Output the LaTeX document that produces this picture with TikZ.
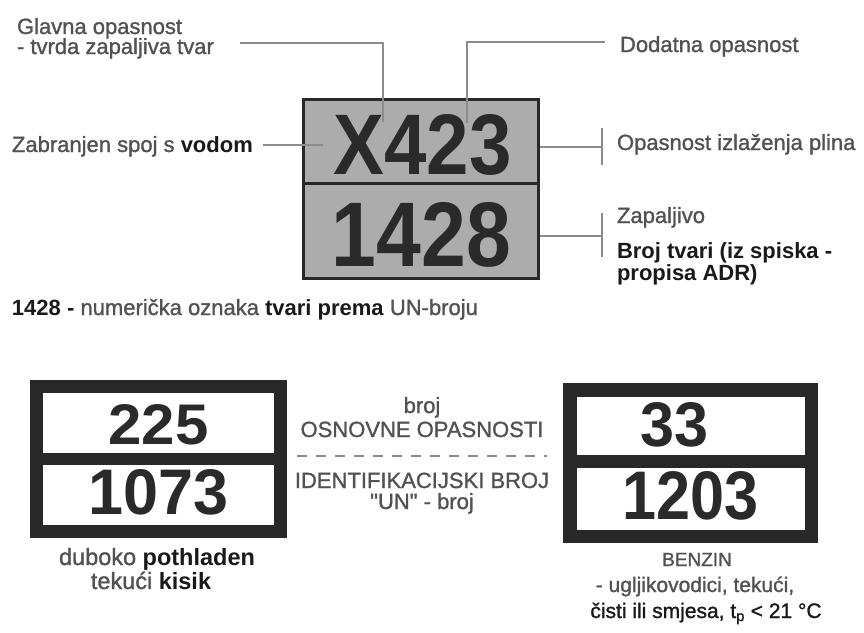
\documentclass[tikz,border=0pt]{standalone}
\usepackage{fontspec}
\setmainfont{Liberation Sans}[UprightFeatures={FakeBold=1.2}]
\usepackage{graphicx}
\definecolor{txtc}{RGB}{82,82,82}
\definecolor{darkc}{RGB}{25,25,25}
\definecolor{numc}{RGB}{42,42,42}
\definecolor{boxc}{RGB}{40,40,40}
\definecolor{leadc}{RGB}{140,140,140}
\definecolor{boxgray}{RGB}{172,172,172}
\begin{document}
\begin{tikzpicture}[x=1pt,y=-1pt,
  lbl/.style={inner sep=0pt, outer sep=0pt, text=txtc, font=\fontsize{22}{24}\selectfont},
  lblw/.style={lbl, anchor=base west},
  lblc/.style={lbl, anchor=base},
  boldlbl/.style={text=darkc, font=\fontsize{22}{24}\selectfont\bfseries},
  leader/.style={draw=leadc, line width=1.4pt},
  dashline/.style={draw=leadc, line width=1.5pt, dash pattern=on 10pt off 9pt},
  bignum/.style={inner sep=0pt, outer sep=0pt, text=numc, font=\bfseries},
  plate/.style={draw=boxc, rectangle, inner sep=0pt, outer sep=0pt}
]
\useasboundingbox[fill=white] (0,0) rectangle (864,632);

% ---------- top plate ----------
\node[plate, fill=boxgray, line width=3pt, minimum width=235pt, minimum height=179pt] (top) at (421,189) {};
\draw[boxc, line width=3pt] ([yshift=6pt]top.west) -- ([yshift=6pt]top.east);
\node[bignum] (x423) at (422.5,145) {\resizebox{178pt}{60pt}{X423}};
\node[bignum] (n1428) at (421.5,235) {\resizebox{179pt}{64pt}{1428}};

% ---------- labels top ----------
\node[lblw] (gl1) at (17,34) {Glavna opasnost};
\node[lblw] (gl2) at (17,54) {- tvrda zapaljiva tvar};
\node[lblw] (dod) at (620,52) {Dodatna opasnost};
\node[lblw] (zab) at (12,152) {Zabranjen spoj s {\color{darkc}\bfseries vodom}};
\node[lblw] (izl) at (617,150) {Opasnost izlaženja plina};
\node[lblw] (zap) at (617,223) {Zapaljivo};
\node[lblw, boldlbl] (br1) at (617,258) {Broj tvari (iz spiska -};
\node[lblw, boldlbl] (br2) at (617,280) {propisa ADR)};
\node[lblw] (unl) at (12,315) {{\color{darkc}\bfseries 1428 -} numerička oznaka {\color{darkc}\bfseries tvari prema} UN-broju};

% ---------- leaders ----------
\coordinate (ga) at (240,43); \coordinate (gb) at (383,43); \coordinate (gc) at (383,122);
\draw[leader] (ga) -- (gb) -- (gc);
\coordinate (da) at (605,42); \coordinate (db) at (467,42); \coordinate (dc) at (467,123);
\draw[leader] (da) -- (db) -- (dc);
\coordinate (za) at (263,145); \coordinate (zb) at (323,145);
\draw[leader] (za) -- (zb);
\coordinate (ia) at (540,147); \coordinate (ib) at (602,147);
\coordinate (it1) at (602,128); \coordinate (it2) at (602,165);
\draw[leader] (ia) -- (ib);
\draw[leader] (it1) -- (it2);
\coordinate (pa) at (540,236); \coordinate (pb) at (602,236);
\coordinate (pt1) at (602,213); \coordinate (pt2) at (602,257);
\draw[leader] (pa) -- (pb);
\draw[leader] (pt1) -- (pt2);

% ---------- bottom left plate ----------
\node[plate, fill=white, line width=13pt, minimum width=244pt, minimum height=145pt] (lp) at (158.5,459) {};
\draw[boxc, line width=12pt] (lp.west) -- (lp.east);
\node[bignum] (n225) at (158.5,425) {\resizebox{100pt}{40pt}{225}};
\node[bignum] (n1073) at (158.5,492.5) {\resizebox{140pt}{45pt}{1073}};

% ---------- bottom right plate ----------
\node[plate, fill=white, line width=13.5pt, minimum width=241.5pt, minimum height=146.5pt] (rp) at (690.5,463) {};
\draw[boxc, line width=13pt] ([yshift=1.5pt]rp.west) -- ([yshift=1.5pt]rp.east);
\node[bignum] (n33) at (674.5,425) {\resizebox{68pt}{44pt}{33}};
\node[bignum] (n1203) at (691,496) {\resizebox{136pt}{48pt}{1203}};

% ---------- middle legend ----------
\node[lblc] (m1) at (422,413) {broj};
\node[lblc] (m2) at (422,437) {OSNOVNE OPASNOSTI};
\coordinate (dl) at (297,456); \coordinate (dr) at (547,456);
\draw[dashline] (dl) -- (dr);
\node[lblc] (m3) at (422,488) {IDENTIFIKACIJSKI BROJ};
\node[lblc] (m4) at (422,509) {\textquotedbl UN\textquotedbl{} - broj};

% ---------- captions ----------
\node[lblc, font=\fontsize{23.5}{25}\selectfont] (c1) at (157,565) {duboko {\color{darkc}\bfseries pothladen}};
\node[lblc, font=\fontsize{23.5}{25}\selectfont] (c2) at (151,589) {tekući {\color{darkc}\bfseries kisik}};
\node[lblc, font=\fontsize{19}{21}\selectfont] (c3) at (697,566) {BENZIN};
\node[lblc, font=\fontsize{21}{23}\selectfont] (c4) at (695,592) {- ugljikovodici, tekući,};
\node[lblc, text=darkc, font=\fontsize{21}{23}\selectfont] (c5) at (706,618) {čisti ili smjesa, t\textsubscript{p} < 21 °C};
\end{tikzpicture}
\end{document}
